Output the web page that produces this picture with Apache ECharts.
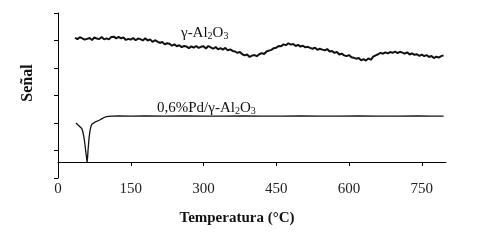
<!DOCTYPE html>
<html>
<head>
<meta charset="utf-8">
<script src="https://cdn.jsdelivr.net/npm/echarts@6/dist/echarts.min.js"></script>
<style>
  html, body { margin: 0; padding: 0; background: #fff; }
  #chart { width: 483px; height: 241px; }
</style>
</head>
<body>
<div id="chart"></div>
<script>
// temperatura (°C) vs señal (u.a.)
var xTicks = [0, 150, 300, 450, 600, 750];

var gammaAl2O3 = [
  [35,5.10],[40,5.05],[45,5.12],[50,5.08],[55,5.03],[60,5.06],[65,5.09],[70,5.02],[75,5.11],[80,5.07],
  [85,5.05],[90,5.13],[95,5.04],[100,5.08],[105,5.04],[110,5.13],[115,5.14],[120,5.08],[125,5.13],[130,5.08],
  [135,5.11],[140,5.02],[145,5.06],[150,5.03],[155,5.09],[160,5.01],[165,5.07],[170,5.05],[175,5.00],[180,5.08],
  [185,5.00],[190,5.04],[195,4.95],[200,5.01],[205,4.96],[210,4.91],[215,4.95],[220,4.86],[225,4.90],[230,4.88],
  [235,4.81],[240,4.86],[245,4.79],[250,4.83],[255,4.76],[260,4.80],[265,4.78],[270,4.72],[275,4.79],[280,4.74],
  [285,4.80],[290,4.73],[295,4.77],[300,4.79],[305,4.71],[310,4.80],[315,4.75],[320,4.70],[325,4.76],[330,4.68],
  [335,4.72],[340,4.67],[345,4.73],[350,4.64],[355,4.68],[360,4.62],[365,4.60],[370,4.55],[375,4.58],[380,4.50],
  [385,4.46],[390,4.49],[395,4.40],[400,4.45],[405,4.47],[410,4.43],[415,4.50],[420,4.54],[425,4.51],[430,4.60],
  [435,4.63],[440,4.66],[445,4.72],[450,4.74],[455,4.80],[460,4.79],[465,4.86],[470,4.83],[475,4.90],[480,4.85],
  [485,4.87],[490,4.80],[495,4.84],[500,4.78],[505,4.81],[510,4.75],[515,4.77],[520,4.73],[525,4.70],[530,4.74],
  [535,4.66],[540,4.70],[545,4.67],[550,4.64],[555,4.69],[560,4.60],[565,4.62],[570,4.55],[575,4.58],[580,4.49],
  [585,4.52],[590,4.46],[595,4.43],[600,4.47],[605,4.39],[610,4.37],[615,4.34],[620,4.36],[625,4.28],[630,4.32],
  [635,4.27],[640,4.35],[645,4.30],[650,4.41],[655,4.46],[660,4.50],[665,4.55],[670,4.52],[675,4.57],[680,4.53],
  [685,4.58],[690,4.55],[695,4.60],[700,4.54],[705,4.59],[710,4.56],[715,4.52],[720,4.57],[725,4.49],[730,4.53],
  [735,4.48],[740,4.50],[745,4.44],[750,4.49],[755,4.43],[760,4.47],[765,4.40],[770,4.44],[775,4.36],[780,4.41],
  [785,4.38],[790,4.43],[795,4.46]
];

var pdAl2O3 = [
  [37,2.00],[40,1.96],[43,1.90],[46,1.86],[49,1.80],[51,1.70],[53,1.53],[55,1.30],[57,1.00],[59,0.72],
  [60,0.58],[61,0.75],[62,1.02],[64,1.45],[66,1.72],[68,1.88],[70,1.96],[73,1.98],[76,2.03],[80,2.06],
  [85,2.10],[90,2.15],[95,2.20],[100,2.23],[110,2.25],[125,2.26],[150,2.25],[180,2.26],[220,2.25],[260,2.26],
  [300,2.25],[340,2.25],[380,2.26],[420,2.25],[460,2.25],[500,2.26],[540,2.25],[580,2.25],[620,2.26],[660,2.25],
  [700,2.25],[740,2.26],[770,2.25],[795,2.25]
];

var chart = echarts.init(document.getElementById('chart'));
var serif = '"Liberation Serif", "Times New Roman", serif';
var labelRich = {
  a: { fontFamily: serif, fontSize: 15, lineHeight: 16, fill: '#111' },
  s: { fontFamily: serif, fontSize: 10, lineHeight: 16, fill: '#111', padding: [6, 0, 0, 0] }
};

var option = {
  backgroundColor: '#fff',
  animation: false,
  grid: { left: 58, right: 37, top: 13, bottom: 63 },
  xAxis: {
    type: 'value',
    min: 0,
    max: 800,
    interval: 150,
    offset: -16,
    axisLine: { onZero: false, lineStyle: { color: '#000', width: 1 } },
    axisTick: { show: true, length: 4, customValues: xTicks, lineStyle: { color: '#000' } },
    axisLabel: { customValues: xTicks, margin: 20, fontFamily: serif, fontSize: 15, color: '#222' },
    splitLine: { show: false }
  },
  yAxis: {
    type: 'value',
    min: 0,
    max: 6,
    interval: 1,
    axisLine: { show: true, lineStyle: { color: '#000', width: 1 } },
    axisTick: { show: true, length: 4, lineStyle: { color: '#000' } },
    axisLabel: { show: false },
    splitLine: { show: false }
  },
  graphic: [
    {
      type: 'text', left: 181, top: 25,
      style: { text: '{a|γ-Al}{s|2}{a|O}{s|3}', rich: labelRich }
    },
    {
      type: 'text', left: 157, top: 100,
      style: { text: '{a|0,6%Pd/γ-Al}{s|2}{a|O}{s|3}', rich: labelRich }
    },
    {
      type: 'text', x: 28, y: 83, rotation: Math.PI / 2,
      style: {
        text: 'Señal', fontFamily: serif, fontSize: 16, fontWeight: 'bold', fill: '#111',
        align: 'center', verticalAlign: 'middle'
      }
    },
    {
      type: 'text', x: 237, y: 218,
      style: {
        text: 'Temperatura (°C)', fontFamily: serif, fontSize: 15, fontWeight: 'bold', fill: '#111',
        align: 'center', verticalAlign: 'middle'
      }
    }
  ],
  series: [
    {
      name: 'γ-Al2O3',
      type: 'line',
      data: gammaAl2O3,
      showSymbol: false,
      lineStyle: { color: '#111', width: 2 }
    },
    {
      name: '0,6%Pd/γ-Al2O3',
      type: 'line',
      data: pdAl2O3,
      showSymbol: false,
      lineStyle: { color: '#111', width: 1.3 }
    }
  ]
};

chart.setOption(option);
</script>
</body>
</html>
